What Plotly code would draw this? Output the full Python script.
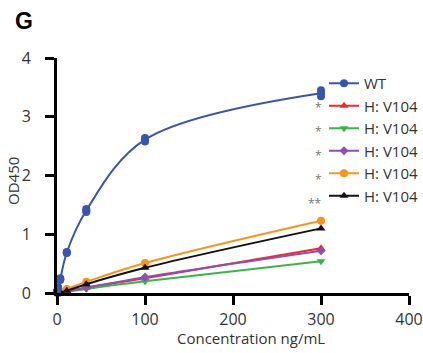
import plotly.graph_objects as go

conc = [0, 1.2, 3.7, 11.1, 33.3, 100, 300]
wt_rep1 = [0.02, 0.08, 0.22, 0.68, 1.38, 2.58, 3.35]
wt_rep2 = [0.03, 0.10, 0.25, 0.70, 1.43, 2.64, 3.45]
h_red = [0.0, 0.0, 0.01, 0.03, 0.09, 0.25, 0.76]
h_green = [0.0, 0.0, 0.01, 0.02, 0.07, 0.20, 0.54]
h_purple = [0.0, 0.0, 0.01, 0.03, 0.09, 0.27, 0.72]
h_orange = [0.0, 0.01, 0.02, 0.07, 0.19, 0.51, 1.23]
h_black = [0.0, 0.0, 0.01, 0.04, 0.15, 0.43, 1.10]

names = ["WT", "H: V104", "H: V104", "H: V104", "H: V104", "H: V104"]
sig = ["", "*", "*", "*", "*", "**"]
colors = ["#3a55ae", "#ee2b2b", "#3cb34a", "#8f4fae", "#f7941d", "#111111"]
symbols = ["circle", "triangle-up", "triangle-down", "diamond", "circle", "triangle-up"]

wt_mean = [(a + b) / 2 for a, b in zip(wt_rep1, wt_rep2)]
series = [wt_mean, h_red, h_green, h_purple, h_orange, h_black]

FONT = "Open Sans, sans-serif"
TXT = "#333333"

# plot area spans page x 57..409, y 58..293
def px(xp):
    return (xp - 57) / 352

def py(yp):
    return (293 - yp) / 235

fig = go.Figure()
for i, (ys, nm, col, sym) in enumerate(zip(series, names, colors, symbols)):
    fig.add_trace(go.Scatter(
        x=conc, y=ys, name=nm, mode="lines+markers",
        line=dict(color=col, width=2, shape="spline", smoothing=1.0),
        marker=dict(color=col, symbol=sym, size=8 if sym != "diamond" else 7),
        cliponaxis=False,
    ))
for rep in (wt_rep1, wt_rep2):
    fig.add_trace(go.Scatter(
        x=conc, y=rep, mode="markers", showlegend=False,
        marker=dict(color=colors[0], symbol="circle", size=8),
        cliponaxis=False,
    ))

axis_common = dict(
    showline=True, linecolor="black", linewidth=3, mirror=False,
    ticks="outside", ticklen=9, tickwidth=3, tickcolor="black",
    showgrid=False, zeroline=False, automargin=False,
    tickfont=dict(family=FONT, size=16, color=TXT),
)
fig.update_xaxes(range=[0, 400], tickvals=[0, 100, 200, 300, 400], ticklabelstandoff=1, **axis_common)
fig.update_yaxes(range=[0, 4], tickvals=[0, 1, 2, 3, 4], ticklabelstandoff=11, **axis_common)

fig.add_annotation(text="Concentration ng/mL", xref="paper", yref="paper",
                   x=px(251), y=py(338), xanchor="center", yanchor="middle",
                   showarrow=False, font=dict(family=FONT, size=15, color=TXT))
fig.add_annotation(text="OD450", xref="paper", yref="paper", textangle=-90,
                   x=px(13), y=py(181), xanchor="center", yanchor="middle",
                   showarrow=False, font=dict(family=FONT, size=15, color=TXT))

for k, s in enumerate(sig):
    if s:
        fig.add_annotation(text=s, xref="paper", yref="paper",
                           x=px(324), y=py(84 + 23.8 * k),
                           xanchor="right", yanchor="middle",
                           showarrow=False, font=dict(family=FONT, size=12, color="#777777"))

fig.add_annotation(text="<b>G</b>", xref="paper", yref="paper",
                   x=px(13), y=py(21),
                   xanchor="left", yanchor="middle", showarrow=False,
                   font=dict(family="Liberation Sans Narrow, Arial Narrow, sans-serif", size=23, color="black"))

fig.update_layout(
    width=423, height=353,
    margin=dict(l=57, r=14, t=58, b=60, autoexpand=False),
    paper_bgcolor="white", plot_bgcolor="white",
    legend=dict(x=px(324), y=py(67), xanchor="left", yanchor="top",
                font=dict(family=FONT, size=15, color=TXT),
                bgcolor="rgba(0,0,0,0)", itemwidth=30, tracegroupgap=0),
    showlegend=True,
)
fig.write_html("out.html", config={"displayModeBar": False},
               post_script="document.body.style.margin='0';document.body.style.overflow='hidden';")
